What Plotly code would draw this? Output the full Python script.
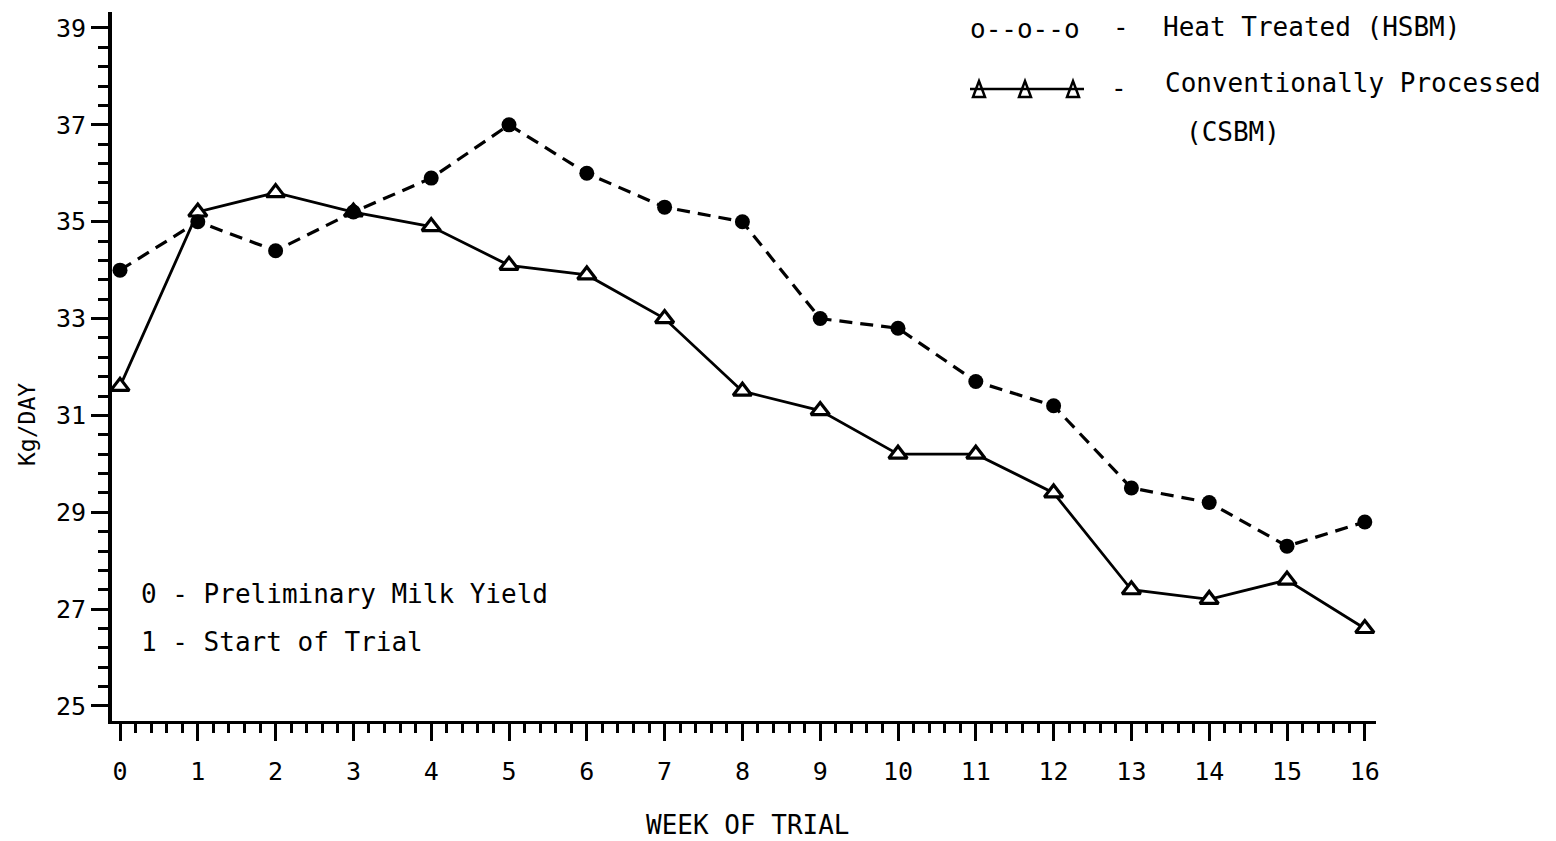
import plotly.graph_objects as go

# Weekly milk yield (kg/day) for the two soybean meal treatments
weeks = list(range(17))
hsbm_yield = [34.0, 35.0, 34.4, 35.2, 35.9, 37.0, 36.0, 35.3, 35.0,
              33.0, 32.8, 31.7, 31.2, 29.5, 29.2, 28.3, 28.8]
csbm_yield = [31.6, 35.2, 35.6, 35.2, 34.9, 34.1, 33.9, 33.0, 31.5,
              31.1, 30.2, 30.2, 29.4, 27.4, 27.2, 27.6, 26.6]
y_ticks = [25, 27, 29, 31, 33, 35, 37, 39]

W, H = 1556, 841
PL, PR, PT, PB = 112, 1376, 12, 721   # plot area edges in pixels
FONT = "DejaVu Sans Mono"


def fx(x):
    return (x - PL) / (PR - PL)


def fy(y):
    return (PB - y) / (PB - PT)


fig = go.Figure()

fig.add_trace(go.Scatter(
    x=weeks, y=csbm_yield, mode="lines+markers",
    line=dict(color="black", width=2.8),
    marker=dict(symbol="triangle-up", size=16, color="white",
                line=dict(color="black", width=3.2)),
    showlegend=False,
))
fig.add_trace(go.Scatter(
    x=weeks, y=hsbm_yield, mode="lines+markers",
    line=dict(color="black", width=3.2, dash="13px,8px"),
    marker=dict(symbol="circle", size=15, color="black"),
    showlegend=False,
))

tickfont = dict(family=FONT, size=25, color="black")
fig.update_xaxes(
    range=[-0.103, 16.144], tickmode="array", tickvals=weeks,
    ticktext=[str(w) for w in weeks],
    showline=True, linecolor="black", linewidth=3,
    ticks="outside", ticklen=17, tickwidth=3, tickcolor="black",
    minor=dict(dtick=0.2, tick0=0, ticks="outside", ticklen=9,
               tickwidth=3, tickcolor="black", showgrid=False),
    showgrid=False, zeroline=False, tickfont=tickfont, ticklabelstandoff=9,
)
fig.update_yaxes(
    range=[24.690, 39.330], tickmode="array", tickvals=y_ticks,
    ticktext=[str(v) for v in y_ticks],
    showline=True, linecolor="black", linewidth=4,
    ticks="outside", ticklen=17, tickwidth=3, tickcolor="black",
    minor=dict(dtick=0.4, tick0=25, ticks="outside", ticklen=10,
               tickwidth=3, tickcolor="black", showgrid=False),
    showgrid=False, zeroline=False, tickfont=tickfont, ticklabelstandoff=0,
)

txt = dict(family=FONT, size=26, color="black")
annotations = [
    dict(text="o--o--o", x=fx(968), y=fy(29), xanchor="left"),
    dict(text="-", x=fx(1121), y=fy(27), xanchor="center"),
    dict(text="Heat Treated (HSBM)", x=fx(1161), y=fy(27), xanchor="left"),
    dict(text="-", x=fx(1119), y=fy(88), xanchor="center"),
    dict(text="Conventionally Processed", x=fx(1163), y=fy(83), xanchor="left"),
    dict(text="(CSBM)", x=fx(1184), y=fy(132), xanchor="left"),
    dict(text="0 - Preliminary Milk Yield", x=fx(139), y=fy(594), xanchor="left"),
    dict(text="1 - Start of Trial", x=fx(139), y=fy(642), xanchor="left"),
    dict(text="WEEK OF TRIAL", x=fx(748), y=fy(825), xanchor="center"),
    dict(text="Kg/DAY", x=fx(27), y=fy(425), xanchor="center", textangle=-90,
         font=dict(family=FONT, size=23, color="black")),
]
for a in annotations:
    a.setdefault("font", txt)
    fig.add_annotation(xref="paper", yref="paper", yanchor="middle",
                       showarrow=False, **a)

# Key symbol for the conventionally processed series: line through triangles
shapes = [dict(type="line", x0=fx(970), x1=fx(1084), y0=fy(89), y1=fy(89),
               line=dict(color="black", width=2.5))]
for cx in (979, 1025, 1073):
    pts = [(cx - 6, 97), (cx + 6, 97), (cx, 81)]
    path = "M {} {} L {} {} L {} {} Z".format(
        *[v for p in pts for v in (fx(p[0]), fy(p[1]))])
    shapes.append(dict(type="path", path=path,
                       line=dict(color="black", width=2.5)))
for s in shapes:
    s.setdefault("xref", "paper")
    s.setdefault("yref", "paper")
    fig.add_shape(**s)

fig.update_layout(
    width=W, height=H, autosize=False,
    margin=dict(l=PL, r=W - PR, t=PT, b=H - PB),
    paper_bgcolor="white", plot_bgcolor="white",
    font=dict(family=FONT, color="black"),
)

fig.write_html("out.html")
